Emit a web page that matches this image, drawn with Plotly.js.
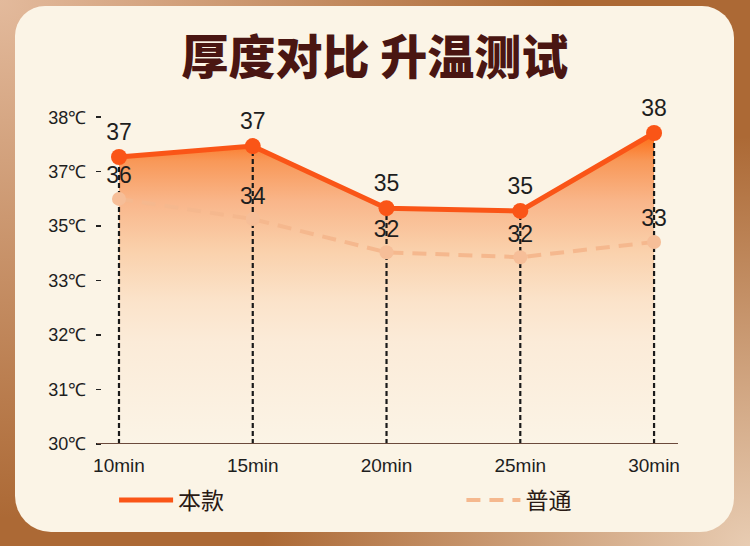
<!DOCTYPE html>
<html><head><meta charset="utf-8">
<script src="https://cdn.plot.ly/plotly-3.0.1.min.js"></script>
<style>
html,body{margin:0;padding:0;}
body{width:750px;height:546px;overflow:hidden;position:relative;
  background:radial-gradient(ellipse 75% 95% at 0% 0%, #E3BA9C 0%, rgba(227,186,156,0) 100%),
             radial-gradient(ellipse 65% 75% at 100% 100%, #E8CCB2 0%, rgba(232,204,178,0) 100%),
             #AC6935;}
#card{position:absolute;left:15px;top:6px;width:719px;height:526px;background:#FBF4E6;border-radius:30px 32px 34px 36px;}
#chart{position:absolute;left:0;top:0;width:750px;height:546px;}
</style></head><body>
<div id="card"></div><div id="chart"></div>
<script>
const categories = ['10min','15min','20min','25min','30min'];
const yTickVals = [0,1,2,3,4,5,6];
const yTickText = ['30℃','31℃','32℃','33℃','35℃','37℃','38℃'];
const benkuanPos = [5.27,5.47,4.33,4.28,5.71];
const benkuanLabels = ['37','37','35','35','38'];
const putongPos = [4.50,4.13,3.52,3.43,3.71];
const putongLabels = ['36','34','32','32','33'];
const seriesNames = ['本款','普通'];

const ORANGE = '#FA5517';
const PEACH = '#F5B88E';
const TXT = '#1E1E1E';
const NUMFONT = 'Liberation Sans, Arial, sans-serif';

const vx = [], vy = [];
categories.forEach((c,i)=>{ vx.push(c,c,null); vy.push(0,benkuanPos[i],null); });

const traces = [
  {x:categories, y:benkuanPos, type:'scatter', mode:'lines', fill:'tozeroy', line:{width:0, color:'rgba(0,0,0,0)'},
   fillgradient:{type:'vertical', start:0, stop:Math.max(...benkuanPos),
     colorscale:[[0,'#FBF4E6'],[0.33,'#FBEBD8'],[0.46,'#FBE3CA'],[0.62,'#FAD1AC'],[0.78,'#F9B68A'],[0.91,'#F89858'],[1,'#FF6A10']]},
   showlegend:false, hoverinfo:'skip'},
  {x:vx, y:vy, type:'scatter', mode:'lines', line:{color:'#1A1A1A', width:2.2, dash:'5px,3px'}, showlegend:false, hoverinfo:'skip', connectgaps:false},
  {x:categories, y:putongPos, type:'scatter', mode:'lines', name:seriesNames[1], line:{color:PEACH, width:4, dash:'14px,9px'}, legend:'legend2'},
  {x:categories, y:putongPos, type:'scatter', mode:'markers+text', text:putongLabels, textposition:'top center',
   textfont:{family:NUMFONT, size:23, color:TXT}, marker:{color:'#F6BE98', size:14}, showlegend:false},
  {x:categories, y:benkuanPos, type:'scatter', mode:'lines', name:seriesNames[0], line:{color:ORANGE, width:5}, legend:'legend'},
  {x:categories, y:benkuanPos, type:'scatter', mode:'markers+text', text:benkuanLabels, textposition:'top center',
   textfont:{family:NUMFONT, size:23, color:TXT}, marker:{color:ORANGE, size:16}, showlegend:false}
];

const legendBase = {orientation:'h', xanchor:'left', y:-0.158, yanchor:'middle', bgcolor:'rgba(0,0,0,0)',
  font:{family:'Noto Sans CJK SC, sans-serif', size:23, color:'#2A1A14'}, itemwidth:54};

const layout = {
  width:750, height:546,
  margin:{l:102, r:72, t:90, b:102},
  paper_bgcolor:'rgba(0,0,0,0)', plot_bgcolor:'rgba(0,0,0,0)',
  title:{text:'厚度对比 升温测试', x:0.5, xanchor:'center', y:1-58/546, yref:'container', yanchor:'middle',
    font:{family:'Noto Sans CJK SC, sans-serif', size:47, color:'#4A1612', weight:900}},
  xaxis:{type:'category', range:[-0.127, 4.179], showgrid:false, zeroline:false, showline:false, ticks:'',
    ticklabelstandoff:8, tickfont:{family:NUMFONT, size:19, color:TXT}, fixedrange:true},
  yaxis:{range:[0, 6.5], tickvals:yTickVals, ticktext:yTickText, showgrid:false, zeroline:false, showline:false,
    ticks:'outside', ticklen:5, tickwidth:1.5, tickcolor:'#222', ticklabelstandoff:6,
    tickfont:{family:NUMFONT, size:18, color:TXT}, fixedrange:true},
  shapes:[{type:'line', xref:'paper', yref:'y', x0:-5/576, x1:1, y0:0, y1:0, line:{color:'#6B4A3C', width:2}}],
  legend:Object.assign({}, legendBase, {x:0.021}),
  legend2:Object.assign({}, legendBase, {x:0.624}),
  showlegend:true
};
Plotly.newPlot('chart', traces, layout, {displayModeBar:false, staticPlot:true});
</script></body></html>
